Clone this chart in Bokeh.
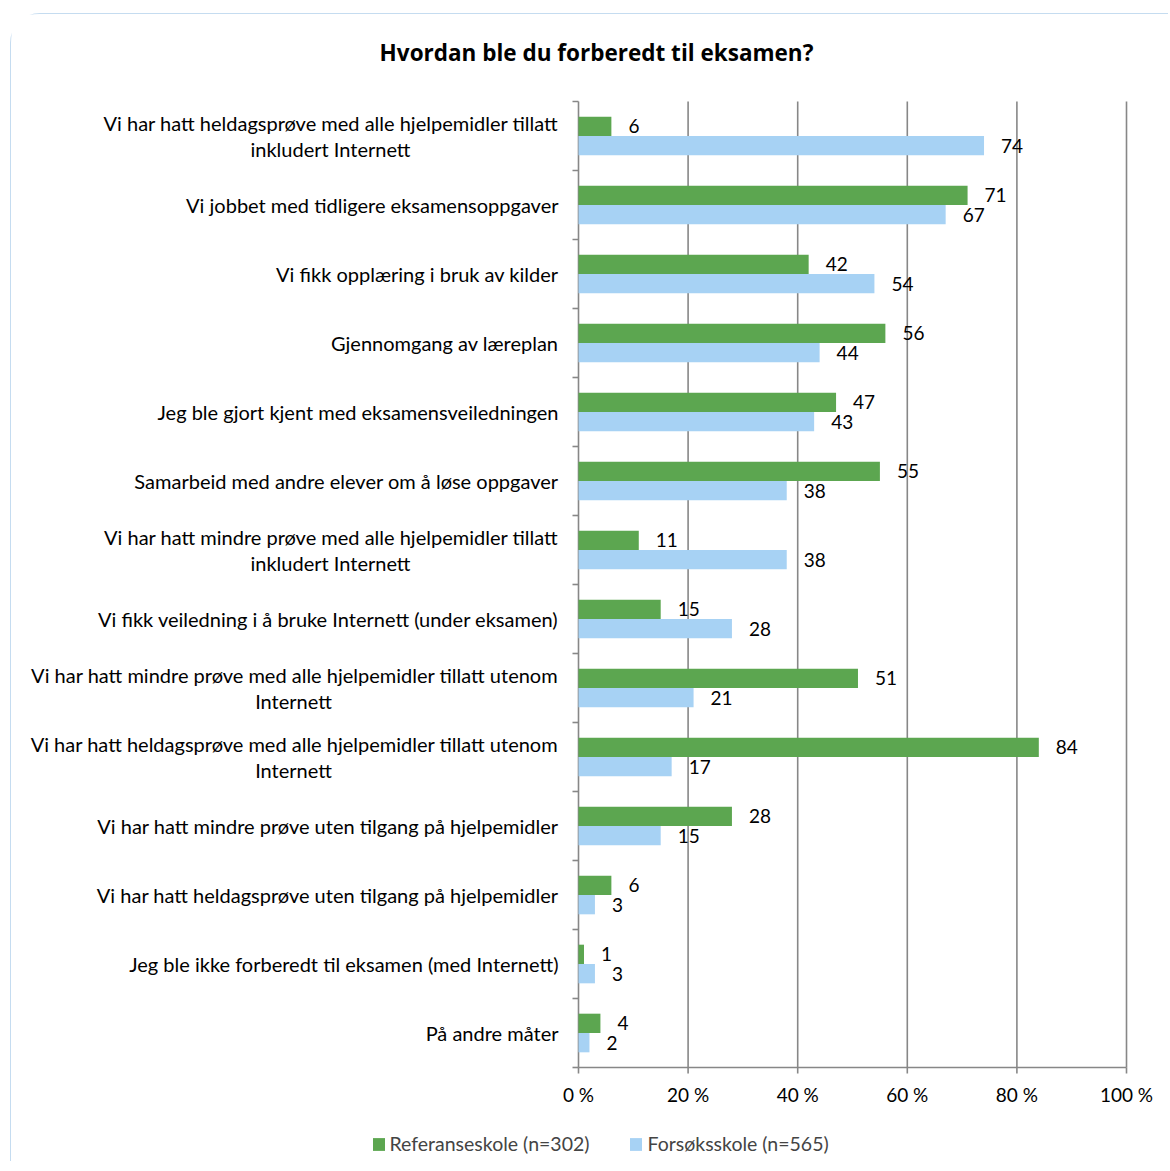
import numpy as np
from bokeh.plotting import figure
from bokeh.models import (Range1d, LabelSet, Label, Legend, LegendItem, ColumnDataSource)
from bokeh.core.properties import value
from bokeh.transform import dodge
from bokeh.embed import file_html
from bokeh.resources import INLINE

FONT = "Lato"
TITLE_FONT = "Open Sans"

title_text = "Hvordan ble du forberedt til eksamen?"
categories = [
    "Vi har hatt heldagsprøve med alle hjelpemidler tillatt\ninkludert Internett",
    "Vi jobbet med tidligere eksamensoppgaver",
    "Vi fikk opplæring i bruk av kilder",
    "Gjennomgang av læreplan",
    "Jeg ble gjort kjent med eksamensveiledningen",
    "Samarbeid med andre elever om å løse oppgaver",
    "Vi har hatt mindre prøve med alle hjelpemidler tillatt\ninkludert Internett",
    "Vi fikk veiledning i å bruke Internett (under eksamen)",
    "Vi har hatt mindre prøve med alle hjelpemidler tillatt utenom\nInternett",
    "Vi har hatt heldagsprøve med alle hjelpemidler tillatt utenom\nInternett",
    "Vi har hatt mindre prøve uten tilgang på hjelpemidler",
    "Vi har hatt heldagsprøve uten tilgang på hjelpemidler",
    "Jeg ble ikke forberedt til eksamen (med Internett)",
    "På andre måter",
]
referanse = [6, 71, 42, 56, 47, 55, 11, 15, 51, 84, 28, 6, 1, 4]
forsok = [74, 67, 54, 44, 43, 38, 38, 28, 21, 17, 15, 3, 3, 2]
series_names = ["Referanseskole (n=302)", "Forsøksskole (n=565)"]
x_ticks = [0, 20, 40, 60, 80, 100]
x_tick_labels = ["0 %", "20 %", "40 %", "60 %", "80 %", "100 %"]

GREEN = "#5ca650"
BLUE = "#a7d2f4"
GRID = "#878787"
BORDER = "#c5dcf0"

# geometry (pixels)
W, H = 1158, 1148
LABEL_AREA = 567      # canvas left -> 0 % line
PLOT_W = 548          # 0 % .. 100 %
TOP_GAP = 87          # canvas top -> first category
CAT_H = 69            # pixels per category
n = len(categories)

x_start = -100.0 * LABEL_AREA / PLOT_W
x_end = 100.0 * (W - LABEL_AREA) / PLOT_W
y_top = -TOP_GAP / CAT_H
y_bottom = (H - TOP_GAP) / CAT_H

centers = [i + 0.5 for i in range(n)]
source = ColumnDataSource(dict(
    y=centers,
    ref=referanse,
    exp=forsok,
    ref_txt=[str(v) for v in referanse],
    exp_txt=[str(v) for v in forsok],
))

p = figure(width=W, height=H, output_backend="svg", toolbar_location=None,
           x_range=Range1d(x_start, x_end), y_range=Range1d(y_bottom, y_top),
           x_axis_location=None, y_axis_location=None,
           min_border_left=0, min_border_right=0, min_border_top=0, min_border_bottom=0)
p.styles = {"border-top": f"1px solid {BORDER}", "border-left": f"1px solid {BORDER}",
            "border-top-left-radius": "30px", "margin-left": "10px", "margin-top": "13px"}
p.outline_line_color = None
p.xgrid.visible = False
p.ygrid.visible = False

# vertical grid lines (0 % line doubles as the category axis)
p.segment(x0=x_ticks, y0=[0] * len(x_ticks), x1=x_ticks, y1=[n] * len(x_ticks),
          line_color=GRID, line_width=1.6)
# value axis line and its ticks
p.segment(x0=[x_ticks[0]], y0=[n], x1=[x_ticks[-1]], y1=[n], line_color=GRID, line_width=1.6)
p.ray(x=x_ticks, y=[n] * len(x_ticks), length=6, length_units="screen",
      angle=-np.pi / 2, line_color=GRID, line_width=1.6)
# category separator ticks on the category axis
p.ray(x=[0] * (n + 1), y=list(range(n + 1)), length=6, length_units="screen",
      angle=np.pi, line_color=GRID, line_width=1.6)

BAR_H = 0.28
r_ref = p.hbar(y=dodge("y", -BAR_H / 2, range=p.y_range), left=0, right="ref", height=BAR_H,
               source=source, fill_color=GREEN, line_color=None)
r_exp = p.hbar(y=dodge("y", BAR_H / 2, range=p.y_range), left=0, right="exp", height=BAR_H,
               source=source, fill_color=BLUE, line_color=None)

lbl_common = dict(x_offset=17, text_align="left", text_baseline="middle",
                  text_font=value(FONT), text_font_size="19px", text_color="black", source=source)
p.add_layout(LabelSet(x="ref", y=dodge("y", -BAR_H / 2, range=p.y_range), text="ref_txt", **lbl_common))
p.add_layout(LabelSet(x="exp", y=dodge("y", BAR_H / 2, range=p.y_range), text="exp_txt", **lbl_common))

# value-axis tick labels
tick_src = ColumnDataSource(dict(x=x_ticks, y=[n] * len(x_ticks), text=x_tick_labels))
p.add_layout(LabelSet(x="x", y="y", text="text", y_offset=-27, text_align="center",
                      text_baseline="middle", text_font=value(FONT), text_font_size="19px",
                      text_color="black", source=tick_src))

# category labels
single = dict(y=[], text=[])
first = dict(y=[], text=[])
second = dict(y=[], text=[], xo=[])
LINE2_CENTER = {0: -248, 6: -248, 8: -285, 9: -285}   # centre of first line, px left of 0 %
for i, cat in enumerate(categories):
    parts = cat.split("\n")
    if len(parts) == 1:
        single["y"].append(centers[i]); single["text"].append(cat)
    else:
        first["y"].append(centers[i]); first["text"].append(parts[0])
        second["y"].append(centers[i]); second["text"].append(parts[1])
        second["xo"].append(LINE2_CENTER[i])
for s in (single, first, second):
    s["x"] = [0] * len(s["y"])
cat_font = dict(text_font=value(FONT), text_font_size="20px", text_color="black",
                text_baseline="middle")
LINE_DY = 0.19
p.add_layout(LabelSet(x="x", y="y", text="text", x_offset=-20, text_align="right",
                      source=ColumnDataSource(single), **cat_font))
p.add_layout(LabelSet(x="x", y=dodge("y", -LINE_DY, range=p.y_range), text="text", x_offset=-20,
                      text_align="right", source=ColumnDataSource(first), **cat_font))
p.add_layout(LabelSet(x="x", y=dodge("y", LINE_DY, range=p.y_range), text="text", x_offset="xo",
                      text_align="center", source=ColumnDataSource(second), **cat_font))

# title
p.add_layout(Label(x=585, y=H - 38, x_units="screen", y_units="screen", text=title_text,
                   text_align="center", text_baseline="middle", text_font=TITLE_FONT,
                   text_font_size="22.5px", text_font_style="bold", text_color="black"))

legend = Legend(items=[LegendItem(label=series_names[0], renderers=[r_ref]),
                       LegendItem(label=series_names[1], renderers=[r_exp])],
                location=(359.5, 7), orientation="horizontal", padding=0, margin=0,
                spacing=39, label_standoff=4, glyph_width=15, glyph_height=16,
                label_text_font=FONT, label_text_font_size="19.5px",
                border_line_color=None, background_fill_alpha=0)
p.add_layout(legend, "center")

open("out.html", "w").write(file_html(p, INLINE))
